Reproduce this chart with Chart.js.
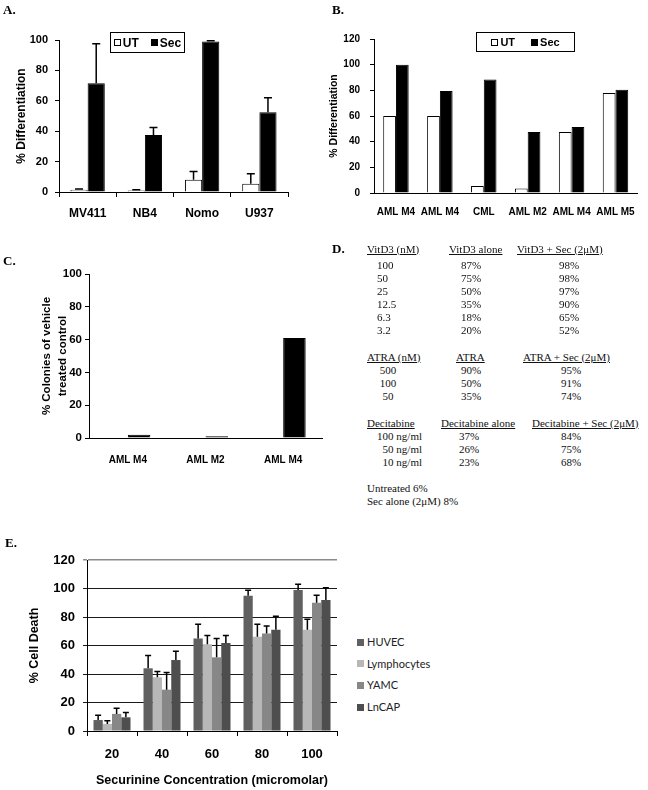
<!DOCTYPE html>
<html>
<head>
<meta charset="utf-8">
<script src="https://cdn.jsdelivr.net/npm/chart.js@4.4.1/dist/chart.umd.min.js"></script>
<style>
  body { margin: 0; background: #fff; width: 648px; height: 790px; position: relative; overflow: hidden; }
  canvas { position: absolute; }
  .panel { position: absolute; font: bold 13px "Liberation Serif"; line-height: 13px; }
  .legend { position: absolute; border: 1px solid #000; display: flex; align-items: center; justify-content: center; gap: 12px; font-family: "Liberation Sans"; font-weight: bold; box-sizing: border-box; }
  .legend span.item { display: flex; align-items: center; gap: 2px; }
  .legend i, .legendE i { display: inline-block; width: 7px; height: 7px; box-sizing: border-box; }
  .legendE { position: absolute; font: 11px Lato; color: #222; }
  .legendE div { position: absolute; white-space: nowrap; display: flex; align-items: center; gap: 3px; line-height: 14px; }
  .tbl { position: absolute; font: 11px "Liberation Serif"; line-height: 13px; white-space: nowrap; color: #111; }
  .tbl.u { text-decoration: underline; }
</style>
</head>
<body>
<canvas id="chartA" width="324" height="225" style="left:0;top:0"></canvas>
<canvas id="chartB" width="324" height="225" style="left:324px;top:0"></canvas>
<canvas id="chartC" width="324" height="215" style="left:0;top:255px"></canvas>
<canvas id="chartE" width="345" height="250" style="left:0;top:540px"></canvas>

<div class="panel" style="left:3px;top:3px">A.</div>
<div class="panel" style="left:332px;top:3px">B.</div>
<div class="panel" style="left:3px;top:254px">C.</div>
<div class="panel" style="left:332px;top:242px">D.</div>
<div class="panel" style="left:5px;top:536px">E.</div>

<div class="legend" id="legendA" style="left:110px;top:32px;width:75px;height:21px;font-size:12px"></div>
<div class="legend" id="legendB" style="left:476px;top:32px;width:99px;height:20px;font-size:11px;gap:16px"></div>
<div class="legendE" id="legendE"></div>
<div id="tableD"></div>

<script>
// A. differentiation in cell lines
const cellLinesA = ['MV411', 'NB4', 'Nomo', 'U937'];
const utA = [1.5, 1, 8, 5.5];
const secA = [71.5, 37.5, 99, 52.5];
const utErrA = [0.5, 0.5, 5.5, 6.5];
const secErrA = [26, 5, 0.5, 9.5];

// B. primary samples
const patientsB = ['AML M4', 'AML M4', 'CML', 'AML M2', 'AML M4', 'AML M5'];
const utB = [60, 60, 5.5, 3.5, 47.5, 78];
const secB = [100, 79.5, 88.5, 47.5, 51.5, 80.5];

// C. colonies
const patientsC = ['AML M4', 'AML M2', 'AML M4'];
const coloniesC = [2, 1, 61];

// E. cell death
const concE = ['20', '40', '60', '80', '100'];
const huvec = [7.7, 44, 65, 95, 99];
const lymph = [5, 37.7, 60.8, 66.2, 71];
const yamc = [12, 29, 51.7, 68.5, 90];
const lncap = [9.6, 49.8, 61.7, 71, 92];
const huvecErr = [3.3, 9, 10, 3.8, 4];
const lymphErr = [2.2, 4, 6.2, 8.7, 7.4];
const yamcErr = [4, 12, 13.3, 5.2, 5.2];
const lncapErr = [3.3, 6.2, 5.3, 9.5, 8.6];

// D. table
const vitD3Doses = ['100', '50', '25', '12.5', '6.3', '3.2'];
const vitD3Alone = ['87%', '75%', '50%', '35%', '18%', '20%'];
const vitD3Sec = ['98%', '98%', '97%', '90%', '65%', '52%'];
const atraDoses = ['500', '100', '50'];
const atraAlone = ['90%', '50%', '35%'];
const atraSec = ['95%', '91%', '74%'];
const decDoses = ['100 ng/ml', '50 ng/ml', '10 ng/ml'];
const decAlone = ['37%', '26%', '23%'];
const decSec = ['84%', '75%', '68%'];

Chart.defaults.font.family = '"Liberation Sans", Arial, sans-serif';
Chart.defaults.color = '#000';

const errorBars = {
    id: 'errorBars',
    afterDatasetsDraw(chart, args, opts) {
        const ctx = chart.ctx;
        const y = chart.scales.y;
        chart.data.datasets.forEach((ds, i) => {
            if (!ds.errors) return;
            chart.getDatasetMeta(i).data.forEach((bar, j) => {
                const v = ds.data[j];
                const e = ds.errors[j];
                if (v == null || !e) return;
                const top = y.getPixelForValue(v + e);
                ctx.save();
                ctx.strokeStyle = '#000';
                ctx.lineWidth = opts.lineWidth || 1.5;
                ctx.beginPath();
                ctx.moveTo(bar.x, bar.y);
                ctx.lineTo(bar.x, top);
                ctx.moveTo(bar.x - opts.cap, top);
                ctx.lineTo(bar.x + opts.cap, top);
                ctx.stroke();
                ctx.restore();
            });
        });
    }
};

const yAxis = (max, width, size, tickPad, title, titleSize, titlePad) => ({
    min: 0, max: max,
    afterFit: (s) => { s.width = width; },
    border: { color: '#000', width: 1 },
    grid: { drawOnChartArea: false, color: '#000', tickLength: 4 },
    ticks: { stepSize: 20, padding: tickPad, font: { size: size, weight: 'bold' } },
    title: { display: true, text: title, padding: { top: titlePad, bottom: 0 }, font: { size: titleSize, weight: 'bold' } },
});

const xAxis = (height, size, tickPad, drawTicks) => ({
    afterFit: (s) => { s.height = height; },
    border: { color: '#000', width: 1 },
    grid: { drawOnChartArea: false, color: '#000', tickLength: 5, drawTicks: drawTicks },
    ticks: { padding: tickPad, font: { size: size, weight: 'bold' }, maxRotation: 0, autoSkip: false },
});

const base = (padding) => ({
    responsive: false,
    animation: false,
    devicePixelRatio: 1,
    layout: { padding: padding },
});

const chartA = new Chart(document.getElementById('chartA'), {
    type: 'bar',
    data: {
        labels: cellLinesA,
        datasets: [
            { label: 'UT', data: utA, errors: utErrA, backgroundColor: '#fff', borderColor: '#000', borderWidth: 1 },
            { label: 'Sec', data: secA, errors: secErrA, backgroundColor: '#000', borderColor: '#000', borderWidth: 1 },
        ]
    },
    options: {
        ...base({ left: 0, right: 36, top: 40, bottom: 0 }),
        categoryPercentage: 0.6, barPercentage: 1,
        scales: {
            x: xAxis(33, 12, 9, true),
            y: yAxis(100, 59, 11, 7, '% Differentiation', 12, 14),
        },
        plugins: { legend: { display: false }, tooltip: { enabled: false }, errorBars: { cap: 4, lineWidth: 1.5 } },
    },
    plugins: [errorBars],
});

const chartB = new Chart(document.getElementById('chartB'), {
    type: 'bar',
    data: {
        labels: patientsB,
        datasets: [
            { label: 'UT', data: utB, backgroundColor: '#fff', borderColor: '#000', borderWidth: 1 },
            { label: 'Sec', data: secB, backgroundColor: '#000', borderColor: '#000', borderWidth: 1 },
        ]
    },
    options: {
        ...base({ left: 0, right: 4, top: 39, bottom: 0 }),
        categoryPercentage: 0.58, barPercentage: 1,
        scales: {
            x: xAxis(32, 10, 13, false),
            y: yAxis(120, 50, 10, 10, '% Differentiation', 10.5, 4),
        },
        plugins: { legend: { display: false }, tooltip: { enabled: false } },
    },
});

const chartC = new Chart(document.getElementById('chartC'), {
    type: 'bar',
    data: {
        labels: patientsC,
        datasets: [
            { label: 'UT', data: patientsC.map(() => null), backgroundColor: '#fff' },
            { label: 'Sec', data: coloniesC, backgroundColor: '#000', borderColor: '#000', borderWidth: 1 },
        ]
    },
    options: {
        ...base({ left: 0, right: 2, top: 19, bottom: 0 }),
        categoryPercentage: 0.58, barPercentage: 1,
        scales: {
            x: xAxis(32, 10, 16, false),
            y: (() => {
                const y = yAxis(100, 89, 11.5, 3, ['% Colonies of vehicle', 'treated control'], 11.5, 39);
                y.title.font.lineHeight = 1.4;
                return y;
            })(),
        },
        plugins: { legend: { display: false }, tooltip: { enabled: false } },
    },
});

const chartE = new Chart(document.getElementById('chartE'), {
    type: 'bar',
    data: {
        labels: concE,
        datasets: [
            { label: 'HUVEC', data: huvec, errors: huvecErr, backgroundColor: '#606060' },
            { label: 'Lymphocytes', data: lymph, errors: lymphErr, backgroundColor: '#b7b7b7' },
            { label: 'YAMC', data: yamc, errors: yamcErr, backgroundColor: '#878787' },
            { label: 'LnCAP', data: lncap, errors: lncapErr, backgroundColor: '#4e4e4e' },
        ]
    },
    options: {
        ...base({ left: 0, right: 8, top: 20, bottom: 0 }),
        categoryPercentage: 0.74, barPercentage: 1,
        scales: {
            x: {
                ...xAxis(59, 13, 11, true),
                title: { display: true, text: 'Securinine Concentration (micromolar)', padding: { top: 0, bottom: 2 }, font: { size: 12.5, weight: 'bold' } },
            },
            y: (() => {
                const y = yAxis(120, 87, 13, 8, '% Cell Death', 12.5, 27);
                y.grid = { drawOnChartArea: true, tickLength: 4, color: (c) => (c.tick && c.tick.value === 120 ? '#8a8a8a' : '#1a1a1a'), lineWidth: (c) => (c.tick && c.tick.value === 120 ? 1.5 : 1) };
                return y;
            })(),
        },
        plugins: { legend: { display: false }, tooltip: { enabled: false }, errorBars: { cap: 3, lineWidth: 1.5 } },
    },
    plugins: [errorBars],
});

// html legends built from the chart datasets
const boxLegend = (chart, id) => {
    const el = document.getElementById(id);
    chart.data.datasets.forEach((ds) => {
        const item = document.createElement('span');
        item.className = 'item';
        const sw = document.createElement('i');
        sw.style.background = ds.backgroundColor;
        sw.style.border = '1px solid #000';
        item.append(sw, document.createTextNode(ds.label));
        el.append(item);
    });
};
boxLegend(chartA, 'legendA');
boxLegend(chartB, 'legendB');

const legendE = document.getElementById('legendE');
chartE.data.datasets.forEach((ds, i) => {
    const row = document.createElement('div');
    row.style.left = '357px';
    row.style.top = (635 + i * 21.7) + 'px';
    const sw = document.createElement('i');
    sw.style.background = ds.backgroundColor;
    row.append(sw, document.createTextNode(ds.label));
    legendE.append(row);
});

// D. table as positioned text
const tableD = document.getElementById('tableD');
const put = (text, x, yc, align, underline) => {
    const s = document.createElement('span');
    s.className = 'tbl' + (underline ? ' u' : '');
    s.textContent = text;
    s.style.top = (yc - 6.5) + 'px';
    s.style.left = x + 'px';
    if (align === 'center') s.style.transform = 'translateX(-50%)';
    if (align === 'right') s.style.transform = 'translateX(-100%)';
    tableD.append(s);
};

put('VitD3 (nM)', 367, 249, 'left', true);
put('VitD3 alone', 449, 249, 'left', true);
put('VitD3 + Sec (2\u03bcM)', 517, 249, 'left', true);
const vitRows = [265, 278.3, 291.3, 304.3, 317.3, 330.7];
vitD3Doses.forEach((d, i) => {
    put(d, 377, vitRows[i], 'left');
    put(vitD3Alone[i], 471, vitRows[i], 'center');
    put(vitD3Sec[i], 569, vitRows[i], 'center');
});

put('ATRA (nM)', 367, 357.3, 'left', true);
put('ATRA', 456, 357.3, 'left', true);
put('ATRA + Sec (2\u03bcM)', 523, 357.3, 'left', true);
const atraRows = [370, 383.3, 396.7];
atraDoses.forEach((d, i) => {
    put(d, 388, atraRows[i], 'center');
    put(atraAlone[i], 471, atraRows[i], 'center');
    put(atraSec[i], 571, atraRows[i], 'center');
});

put('Decitabine', 367, 423.3, 'left', true);
put('Decitabine alone', 441, 423.3, 'left', true);
put('Decitabine + Sec (2\u03bcM)', 532, 423.3, 'left', true);
const decRows = [436, 449.3, 462.3];
decDoses.forEach((d, i) => {
    put(d, 422, decRows[i], 'right');
    put(decAlone[i], 459, decRows[i], 'left');
    put(decSec[i], 571, decRows[i], 'center');
});

put('Untreated 6%', 367, 488.3, 'left');
put('Sec alone (2\u03bcM) 8%', 367, 501.7, 'left');
</script>
</body>
</html>
